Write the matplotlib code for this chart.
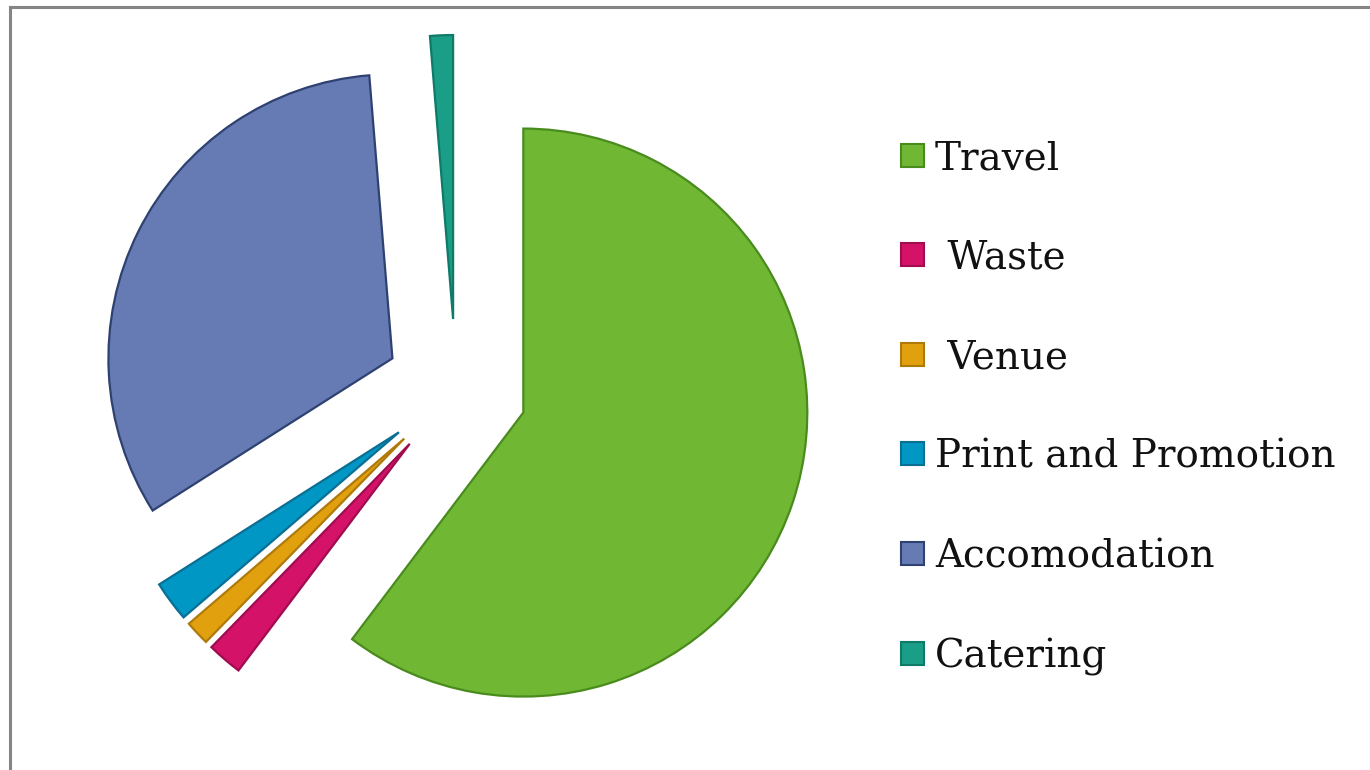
import matplotlib
matplotlib.use("Agg")
import matplotlib.pyplot as plt
from matplotlib.lines import Line2D
from matplotlib.patches import Rectangle

categories = ["Travel", " Waste", " Venue", "Print and Promotion", "Accomodation", "Catering"]
values = [60.3, 2.0, 1.4, 2.3, 32.7, 1.3]
fill_colors = ["#70B834", "#D31268", "#E1A10F", "#0097C4", "#667BB3", "#1A9E88"]
edge_colors = ["#4A8B1E", "#A00C50", "#B07A0A", "#0B6E93", "#2E4170", "#0F7A68"]

W, H = 1370, 770
fig = plt.figure(figsize=(W / 100, H / 100), dpi=100)
fig.patch.set_facecolor("white")

# pie axes, 1 data unit = radius in px
R = 284.0
cx, cy = 456.0, 390.0
axw = 900
ax = fig.add_axes([0, 0, axw / W, 1])
wedges, _ = ax.pie(values, explode=[0.25] * len(values), startangle=90,
                   counterclock=False, colors=fill_colors,
                   wedgeprops=dict(linewidth=1.6))
for w, ec in zip(wedges, edge_colors):
    w.set_edgecolor(ec)
    w.set_joinstyle("miter")
ax.set_aspect("auto")
ax.set_xlim((0 - cx) / R, (axw - cx) / R)
ax.set_ylim((cy - H) / R, cy / R)
ax.axis("off")

# border (top and left)
fig.add_artist(Line2D([10 / W, 1.0], [1 - 7 / H, 1 - 7 / H], transform=fig.transFigure,
                      color="#858585", linewidth=2.2))
fig.add_artist(Line2D([10 / W, 10 / W], [1 - 7 / H, 0], transform=fig.transFigure,
                      color="#858585", linewidth=2.2))

# legend
y0, dy = 155, 99.6
sq = 23
for i, (lab, fc, ec) in enumerate(zip(categories, fill_colors, edge_colors)):
    yc = y0 + i * dy
    fig.add_artist(Rectangle(((912 - sq / 2) / W, 1 - (yc + sq / 2) / H), sq / W, sq / H,
                             transform=fig.transFigure, facecolor=fc, edgecolor=ec,
                             linewidth=1.5))
    fig.text(935 / W, 1 - (yc + 14) / H, lab, fontsize=28, family="DejaVu Serif",
             color="#111111", ha="left", va="baseline")

fig.savefig("out.png", dpi=100, facecolor="white")
